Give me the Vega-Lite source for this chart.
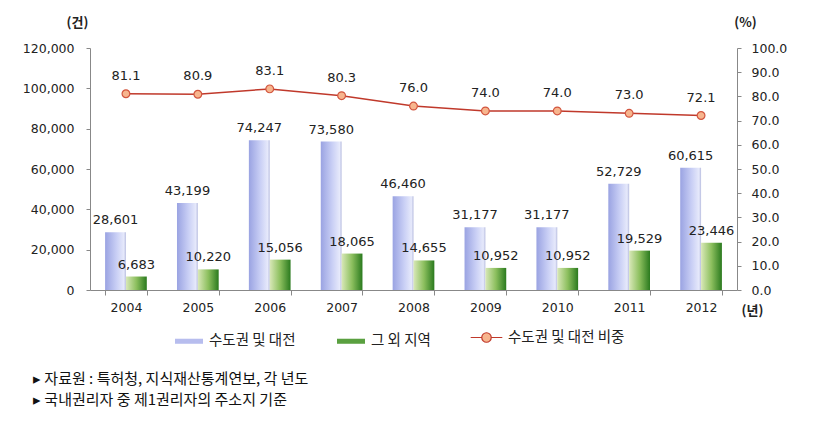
{
  "$schema": "https://vega.github.io/schema/vega-lite/v6.json",
  "width": 647,
  "height": 242,
  "autosize": "none",
  "padding": {"left": 90, "top": 48, "right": 81, "bottom": 133},
  "background": "white",
  "config": {
    "view": {"stroke": null},
    "font": "DejaVu Sans",
    "axis": {"domainColor": "#888888", "tickColor": "#888888", "labelColor": "#222222", "labelFont": "DejaVu Sans", "labelFontSize": 12.5, "grid": false, "titleFont": "Noto Sans CJK KR", "titleFontWeight": "bold", "titleFontSize": 13, "titleColor": "#222222"}
  },
  "datasets": {
    "bars": [
      {"year": "2004", "series": "수도권 및 대전", "value": 28601},
      {"year": "2004", "series": "그 외 지역", "value": 6683},
      {"year": "2005", "series": "수도권 및 대전", "value": 43199},
      {"year": "2005", "series": "그 외 지역", "value": 10220},
      {"year": "2006", "series": "수도권 및 대전", "value": 74247},
      {"year": "2006", "series": "그 외 지역", "value": 15056},
      {"year": "2007", "series": "수도권 및 대전", "value": 73580},
      {"year": "2007", "series": "그 외 지역", "value": 18065},
      {"year": "2008", "series": "수도권 및 대전", "value": 46460},
      {"year": "2008", "series": "그 외 지역", "value": 14655},
      {"year": "2009", "series": "수도권 및 대전", "value": 31177},
      {"year": "2009", "series": "그 외 지역", "value": 10952},
      {"year": "2010", "series": "수도권 및 대전", "value": 31177},
      {"year": "2010", "series": "그 외 지역", "value": 10952},
      {"year": "2011", "series": "수도권 및 대전", "value": 52729},
      {"year": "2011", "series": "그 외 지역", "value": 19529},
      {"year": "2012", "series": "수도권 및 대전", "value": 60615},
      {"year": "2012", "series": "그 외 지역", "value": 23446}
    ],
    "share": [
      {"year": "2004", "series": "수도권 및 대전 비중", "pct": 81.1},
      {"year": "2005", "series": "수도권 및 대전 비중", "pct": 80.9},
      {"year": "2006", "series": "수도권 및 대전 비중", "pct": 83.1},
      {"year": "2007", "series": "수도권 및 대전 비중", "pct": 80.3},
      {"year": "2008", "series": "수도권 및 대전 비중", "pct": 76.0},
      {"year": "2009", "series": "수도권 및 대전 비중", "pct": 74.0},
      {"year": "2010", "series": "수도권 및 대전 비중", "pct": 74.0},
      {"year": "2011", "series": "수도권 및 대전 비중", "pct": 73.0},
      {"year": "2012", "series": "수도권 및 대전 비중", "pct": 72.1}
    ]
  },
  "title": {
    "text": ["▸ 자료원 : 특허청, 지식재산통계연보, 각 년도", "▸ 국내권리자 중 제1권리자의 주소지 기준"],
    "orient": "bottom",
    "anchor": "start",
    "frame": "group",
    "dx": -57,
    "offset": 24,
    "font": "Noto Sans CJK KR",
    "fontSize": 15,
    "fontWeight": "normal",
    "lineHeight": 21,
    "color": "#111111"
  },
  "encoding": {
    "x": {
      "field": "year",
      "type": "nominal",
      "scale": {"paddingInner": 0.42, "paddingOuter": 0.21},
      "axis": {"labelAngle": 0, "tickBand": "extent", "tickSize": 5, "labelPadding": 6, "title": "(년)", "titleAngle": 0, "titleX": 662, "titleY": 20, "titleBaseline": "middle", "titleAlign": "center"}
    }
  },
  "layer": [
    {
      "data": {"name": "bars"},
      "encoding": {
        "xOffset": {"field": "series", "type": "nominal", "scale": {"domain": ["수도권 및 대전", "그 외 지역"], "paddingInner": 0}},
        "y": {
          "field": "value",
          "type": "quantitative",
          "scale": {"domain": [0, 120000]},
          "axis": {"labelExpr": "format(datum.value, ',')", "values": [0, 20000, 40000, 60000, 80000, 100000, 120000], "tickSize": 4, "labelPadding": 12, "title": "(건)", "titleAngle": 0, "titleX": -13, "titleY": -26, "titleAlign": "center", "titleBaseline": "middle"}
        }
      },
      "layer": [
        {
          "mark": {"type": "bar"},
          "encoding": {
            "fill": {
              "condition": {
                "test": "datum.series === '수도권 및 대전'",
                "value": {"gradient": "linear", "x1": 0, "y1": 0, "x2": 1, "y2": 0, "stops": [{"offset": 0, "color": "#9aa3e2"}, {"offset": 0.55, "color": "#c9cff5"}, {"offset": 0.9, "color": "#e6e9fb"}, {"offset": 1, "color": "#b8bde0"}]}
              },
              "value": {"gradient": "linear", "x1": 0, "y1": 0, "x2": 1, "y2": 0, "stops": [{"offset": 0, "color": "#d9e8b8"}, {"offset": 0.5, "color": "#8cbf5e"}, {"offset": 1, "color": "#2a7a1e"}]}
            }
          }
        },
        {
          "mark": {"type": "bar"},
          "encoding": {
            "y": {"datum": 0, "type": "quantitative", "axis": {"labelExpr": "format(datum.value, ',')", "values": [0, 20000, 40000, 60000, 80000, 100000, 120000], "tickSize": 4, "labelPadding": 12, "title": "(건)", "titleAngle": 0, "titleX": -13, "titleY": -26, "titleAlign": "center", "titleBaseline": "middle"}},
            "color": {
              "field": "series",
              "type": "nominal",
              "scale": {"domain": ["수도권 및 대전", "그 외 지역"], "range": ["#b7bdee", "#5aa040"]},
              "legend": {"orient": "none", "legendX": 85, "legendY": 279, "direction": "horizontal", "title": null, "symbolType": "M-1,-0.18H1V0.18H-1Z", "symbolSize": 784, "symbolStrokeWidth": 0, "labelFont": "Noto Sans CJK KR", "labelFontSize": 14.5, "labelColor": "#222222", "labelOffset": 6, "columnPadding": 41}
            }
          }
        },
        {
          "mark": {"type": "text", "dy": -12, "fontSize": 13, "font": "DejaVu Sans", "color": "#222222"},
          "encoding": {"text": {"field": "value", "type": "quantitative", "format": ","}}
        }
      ]
    },
    {
      "data": {"name": "share"},
      "encoding": {
        "y": {
          "field": "pct",
          "type": "quantitative",
          "scale": {"domain": [0, 100]},
          "axis": {"orient": "right", "format": ".1f", "values": [0, 10, 20, 30, 40, 50, 60, 70, 80, 90, 100], "tickSize": 4, "labelPadding": 10, "title": "(%)", "titleAngle": 0, "titleX": 8, "titleY": -26, "titleAlign": "center", "titleBaseline": "middle"}
        }
      },
      "layer": [
        {
          "mark": {"type": "line", "color": "#c0392b", "strokeWidth": 1.5},
          "encoding": {
            "stroke": {
              "field": "series",
              "type": "nominal",
              "scale": {"range": ["#c0392b"]},
              "legend": {"orient": "none", "legendX": 380, "legendY": 273, "direction": "horizontal", "title": null, "symbolType": "M-1,0L-0.3,0M0.3,0L1,0M-0.3,0A0.3,0.3 0 1,0 0.3,0A0.3,0.3 0 1,0 -0.3,0Z", "symbolSize": 1000, "symbolFillColor": "#f7b58e", "symbolStrokeWidth": 1.2, "labelFont": "Noto Sans CJK KR", "labelFontSize": 14.5, "labelColor": "#222222", "labelOffset": 5}
            }
          }
        },
        {
          "mark": {"type": "point", "filled": true, "shape": "circle", "size": 60, "fill": "#f7b58e", "stroke": "#d2553f", "strokeWidth": 1.2, "opacity": 1}
        },
        {
          "mark": {"type": "text", "dy": -18, "fontSize": 13, "font": "DejaVu Sans", "color": "#222222"},
          "encoding": {"text": {"field": "pct", "type": "quantitative", "format": ".1f"}}
        }
      ]
    }
  ],
  "resolve": {"scale": {"y": "independent"}}
}
